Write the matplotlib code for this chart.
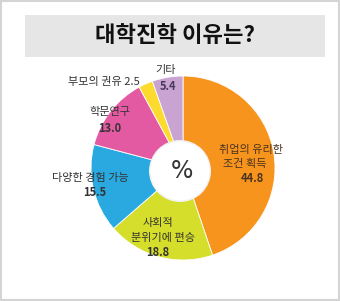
import matplotlib
matplotlib.use("Agg")
import matplotlib.pyplot as plt
from matplotlib.patches import Circle, Rectangle

plt.rcParams['font.family'] = ['Noto Sans CJK KR', 'DejaVu Sans']

title = "대학진학 이유는?"
categories = ["취업의 유리한\n조건 획득", "사회적\n분위기에 편승", "다양한 경험 가능",
              "학문연구", "부모의 권유", "기타"]
values = [44.8, 18.8, 15.5, 13.0, 2.5, 5.4]
colors = ["#F7941D", "#D5DE2A", "#29A9E0", "#E35AA3", "#FDDB2E", "#C9A3D2"]

W, H = 340, 301
fig = plt.figure(figsize=(W / 100, H / 100), dpi=100)
ax = fig.add_axes([0, 0, 1, 1])

def Y(y):
    return H - y

cx, cy, r = 183, Y(168), 92
wedges, _ = ax.pie(values, colors=colors, startangle=90, counterclock=False,
                   center=(cx, cy), radius=r, frame=True,
                   wedgeprops=dict(edgecolor='white', linewidth=0.6))
ax.set_xlim(0, W)
ax.set_ylim(0, H)
ax.set_aspect('equal')
ax.axis('off')

# outer border
ax.add_patch(Rectangle((1, 1), W - 2, H - 2, fill=False, ec="#D4D4D4", lw=1.5))
# title box
ax.add_patch(Rectangle((25, Y(57)), 300, 42, fc="#E6E6E6", ec="none"))
ax.text(175, Y(36), title, ha='center', va='center', fontsize=16,
        fontweight='bold', color="#111111")

ax.add_patch(Circle((180, Y(171)), 31, fc="#F2F2F2", ec="none", zorder=5))
ax.add_patch(Circle((180, Y(171)), 29.5, fc="white", ec="none", zorder=6))
ax.text(182, Y(171), "%", ha='center', va='center', fontsize=17,
        color="#333333", zorder=7, family=['DejaVu Sans'])

lab_fs = 8
dark = "#333333"
vw = 'semibold'
# 취업
ax.text(251, Y(150), "취업의 유리한", ha='center', va='center', fontsize=lab_fs, color="#4a3320")
ax.text(245, Y(164), "조건 획득", ha='center', va='center', fontsize=lab_fs, color="#4a3320")
ax.text(252, Y(179), f"{values[0]:.1f}", ha='center', va='center', fontsize=lab_fs,
        color="#4a3320", fontweight=vw)
# 사회적
ax.text(158, Y(223), "사회적", ha='center', va='center', fontsize=lab_fs, color=dark)
ax.text(163, Y(238), "분위기에 편승", ha='center', va='center', fontsize=lab_fs, color=dark)
ax.text(158, Y(252), f"{values[1]:.1f}", ha='center', va='center', fontsize=lab_fs,
        color=dark, fontweight=vw)
# 다양한
ax.text(90, Y(178), categories[2], ha='center', va='center', fontsize=lab_fs, color=dark)
ax.text(95, Y(192), f"{values[2]:.1f}", ha='center', va='center', fontsize=lab_fs,
        color=dark, fontweight=vw)
# 학문연구
ax.text(110, Y(112), categories[3], ha='center', va='center', fontsize=lab_fs, color=dark)
ax.text(110, Y(128), f"{values[3]:.1f}", ha='center', va='center', fontsize=lab_fs,
        color=dark, fontweight=vw)
# 부모의 권유
ax.text(104, Y(82), f"{categories[4]} {values[4]}", ha='center', va='center',
        fontsize=lab_fs, color=dark)
# 기타
ax.text(166, Y(70), categories[5], ha='center', va='center', fontsize=lab_fs, color=dark)
ax.text(168, Y(86), f"{values[5]:.1f}", ha='center', va='center', fontsize=lab_fs,
        color="#4a3a5a", fontweight=vw)

fig.savefig("out.png", dpi=100)
